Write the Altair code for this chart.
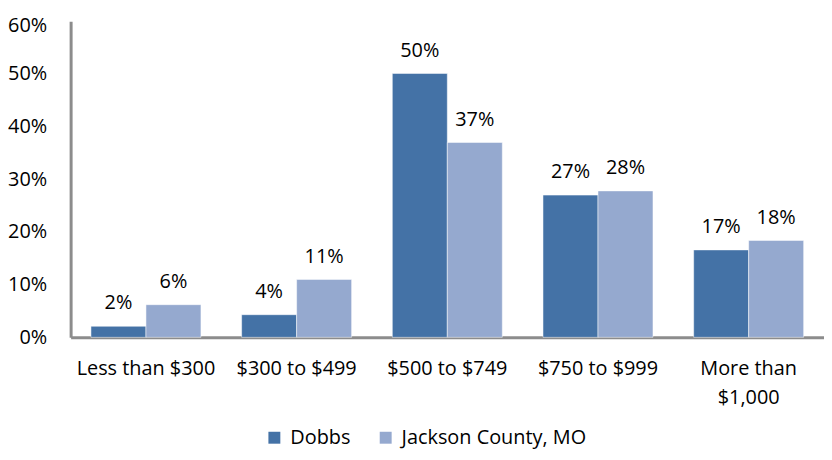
import altair as alt
import pandas as pd

categories = ["Less than $300", "$300 to $499", "$500 to $749", "$750 to $999", "More than|$1,000"]
series = ["Dobbs", "Jackson County, MO"]
dobbs = [0.021, 0.043, 0.501, 0.270, 0.166]
jackson = [0.062, 0.110, 0.370, 0.278, 0.184]
colors = ["#4472A6", "#95A9CF"]
y_ticks = [0, 0.1, 0.2, 0.3, 0.4, 0.5, 0.6]

rows = []
for c, d, j in zip(categories, dobbs, jackson):
    rows.append({"cat": c, "series": series[0], "value": d})
    rows.append({"cat": c, "series": series[1], "value": j})
df = pd.DataFrame(rows)

FONT = "Open Sans"
FS = 20
AXIS_GRAY = "#8c8c8c"

x = alt.X(
    "cat:N", sort=categories, title=None,
    scale=alt.Scale(paddingInner=0.27, paddingOuter=0.135),
    axis=alt.Axis(labelAngle=0, labelExpr="split(datum.label, '|')", ticks=False, tickSize=0,
                  labelPadding=21, domainColor=AXIS_GRAY, domainWidth=3, labelFontSize=FS,
                  labelFont=FONT, labelColor="#000", labelLineHeight=30, labelBaseline="top",
                  labelOverlap=False, labelLimit=400),
)
xo = alt.XOffset("series:N", sort=series, scale=alt.Scale(paddingInner=0, paddingOuter=0))
y = alt.Y(
    "value:Q", title=None,
    scale=alt.Scale(domain=[0, 0.6], nice=False),
    axis=alt.Axis(format=".0%", values=y_ticks, grid=False, ticks=False, tickSize=0, labelPadding=24,
                  domainColor=AXIS_GRAY, domainWidth=3, labelFontSize=FS, labelFont=FONT,
                  labelColor="#000",
                  labelOffset={"condition": {"test": "datum.value >= 0.59", "value": 4}, "value": 0}),
)
color = alt.Color(
    "series:N", sort=series, scale=alt.Scale(domain=series, range=colors),
    legend=alt.Legend(orient="none", legendX=195, legendY=409, direction="horizontal", title=None,
                      symbolType="square", symbolSize=144, symbolStrokeWidth=0, labelFontSize=FS,
                      labelFont=FONT, labelColor="#000", labelOffset=6, columnPadding=25,
                      labelLimit=400),
)

base = alt.Chart(df)
bars = base.mark_bar(stroke="#ffffff", strokeWidth=1, strokeOpacity=0.5).encode(x=x, xOffset=xo, y=y, color=color)
labels = base.mark_text(dy=-23, baseline="middle", fontSize=FS, font=FONT, color="#000").encode(
    x=x, xOffset=xo, y=y, text=alt.Text("value:Q", format=".0%")
)

chart = (
    alt.layer(bars, labels)
    .properties(width=758, height=318, autosize="none",
                padding={"left": 63, "top": 12, "right": 0, "bottom": 114})
    .configure_view(stroke=None)
)

chart.save("out.html", embed_options={"renderer": "svg", "actions": False})
